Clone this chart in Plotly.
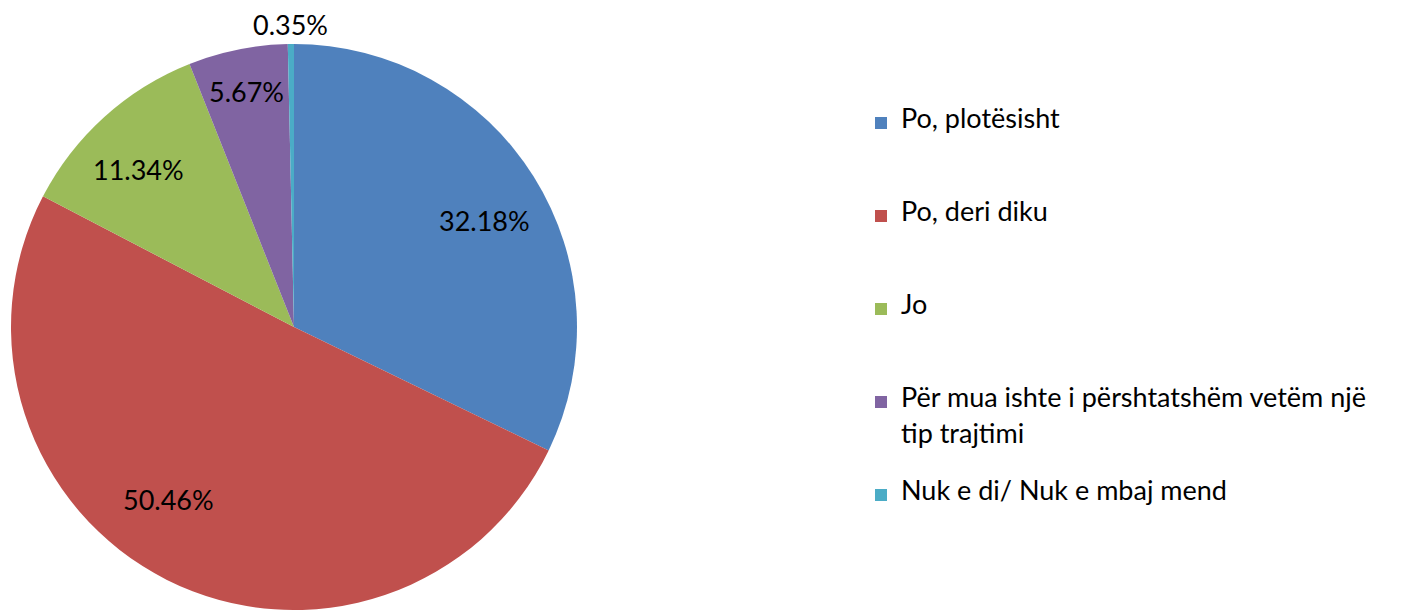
import math
import plotly.graph_objects as go

labels = ["Po, plotësisht", "Po, deri diku", "Jo",
          "Për mua ishte i përshtatshëm vetëm një<br>tip trajtimi",
          "Nuk e di/ Nuk e mbaj mend"]
values = [32.18, 50.46, 11.34, 5.67, 0.35]
colors = ["#4F81BD", "#C0504D", "#9BBB59", "#8064A2", "#4BACC6"]
# data-label placement style: distance from centre (fraction of radius) and angular nudge (deg)
label_radius = [0.769, 0.756, 0.782, 0.850, 1.070]
label_nudge = [2.9, 9.4, -2.4, 0.0, 0.0]

W, H = 1425, 610
cx, cy, R = 294, 327, 283
FONT = "Lato"
TXT = 27
YTOP = 1.1  # helper axis headroom above the pie for the outside label

dom_x = [(cx - R) / W, (cx + R) / W]
dom_pie_y = [(H - cy - R) / H, (H - cy + R) / H]
dom_ax_y = [(H - cy - R) / H, (H - cy + YTOP * R) / H]


def legend_text(lab):
    # big visible text, line spacing driven by the (small) legend font:
    # each entry spans 5 legend lines, second text line sits 2 lines below the first
    parts = lab.split("<br>")
    vis = "<br> <br>".join(f'<span style="font-size:{TXT}px">{p}</span>' for p in parts)
    used = 1 + 2 * (len(parts) - 1)
    return vis + "<br> " * (5 - used)


legend_labels = [legend_text(l) for l in labels[:-1]] + [f'<span style="font-size:{TXT}px">{labels[-1]}</span>']

fig = go.Figure()
# invisible helper trace so a hidden cartesian frame exists over the pie
fig.add_trace(go.Scatter(x=[None], y=[None], showlegend=False, hoverinfo="skip"))
fig.add_trace(go.Pie(
    labels=legend_labels,
    values=values,
    sort=False,
    direction="clockwise",
    rotation=0,
    marker=dict(colors=colors, line=dict(width=0)),
    textinfo="none",
    hoverinfo="value",
    domain=dict(x=dom_x, y=dom_pie_y),
))

# data labels placed around each slice's mid-angle through the hidden axes
total = sum(values)
cum = 0.0
for v, rr, nd in zip(values, label_radius, label_nudge):
    mid = 2 * math.pi * (cum + v / 2) / total + math.radians(nd)
    cum += v
    fig.add_annotation(
        x=rr * math.sin(mid), y=rr * math.cos(mid), xref="x", yref="y",
        text=f"{v:.2f}%", showarrow=False,
        font=dict(family=FONT, size=TXT, color="#000000"),
        xanchor="center", yanchor="middle",
    )

fig.update_layout(
    width=W, height=H,
    margin=dict(l=0, r=0, t=0, b=0),
    paper_bgcolor="white", plot_bgcolor="rgba(0,0,0,0)",
    font=dict(family=FONT, color="#000000"),
    xaxis=dict(domain=dom_x, range=[-1, 1], visible=False, fixedrange=True),
    yaxis=dict(domain=dom_ax_y, range=[-1, YTOP], visible=False, fixedrange=True),
    showlegend=True,
    legend=dict(
        x=861 / W, xanchor="left",
        y=1 - 107.5 / H, yanchor="top",
        valign="top",
        font=dict(family=FONT, size=18 / 1.3, color="#000000"),
        bgcolor="rgba(0,0,0,0)",
    ),
)

fig.write_html("out.html", config={"displayModeBar": False},
               post_script="document.body.style.margin='0';")
